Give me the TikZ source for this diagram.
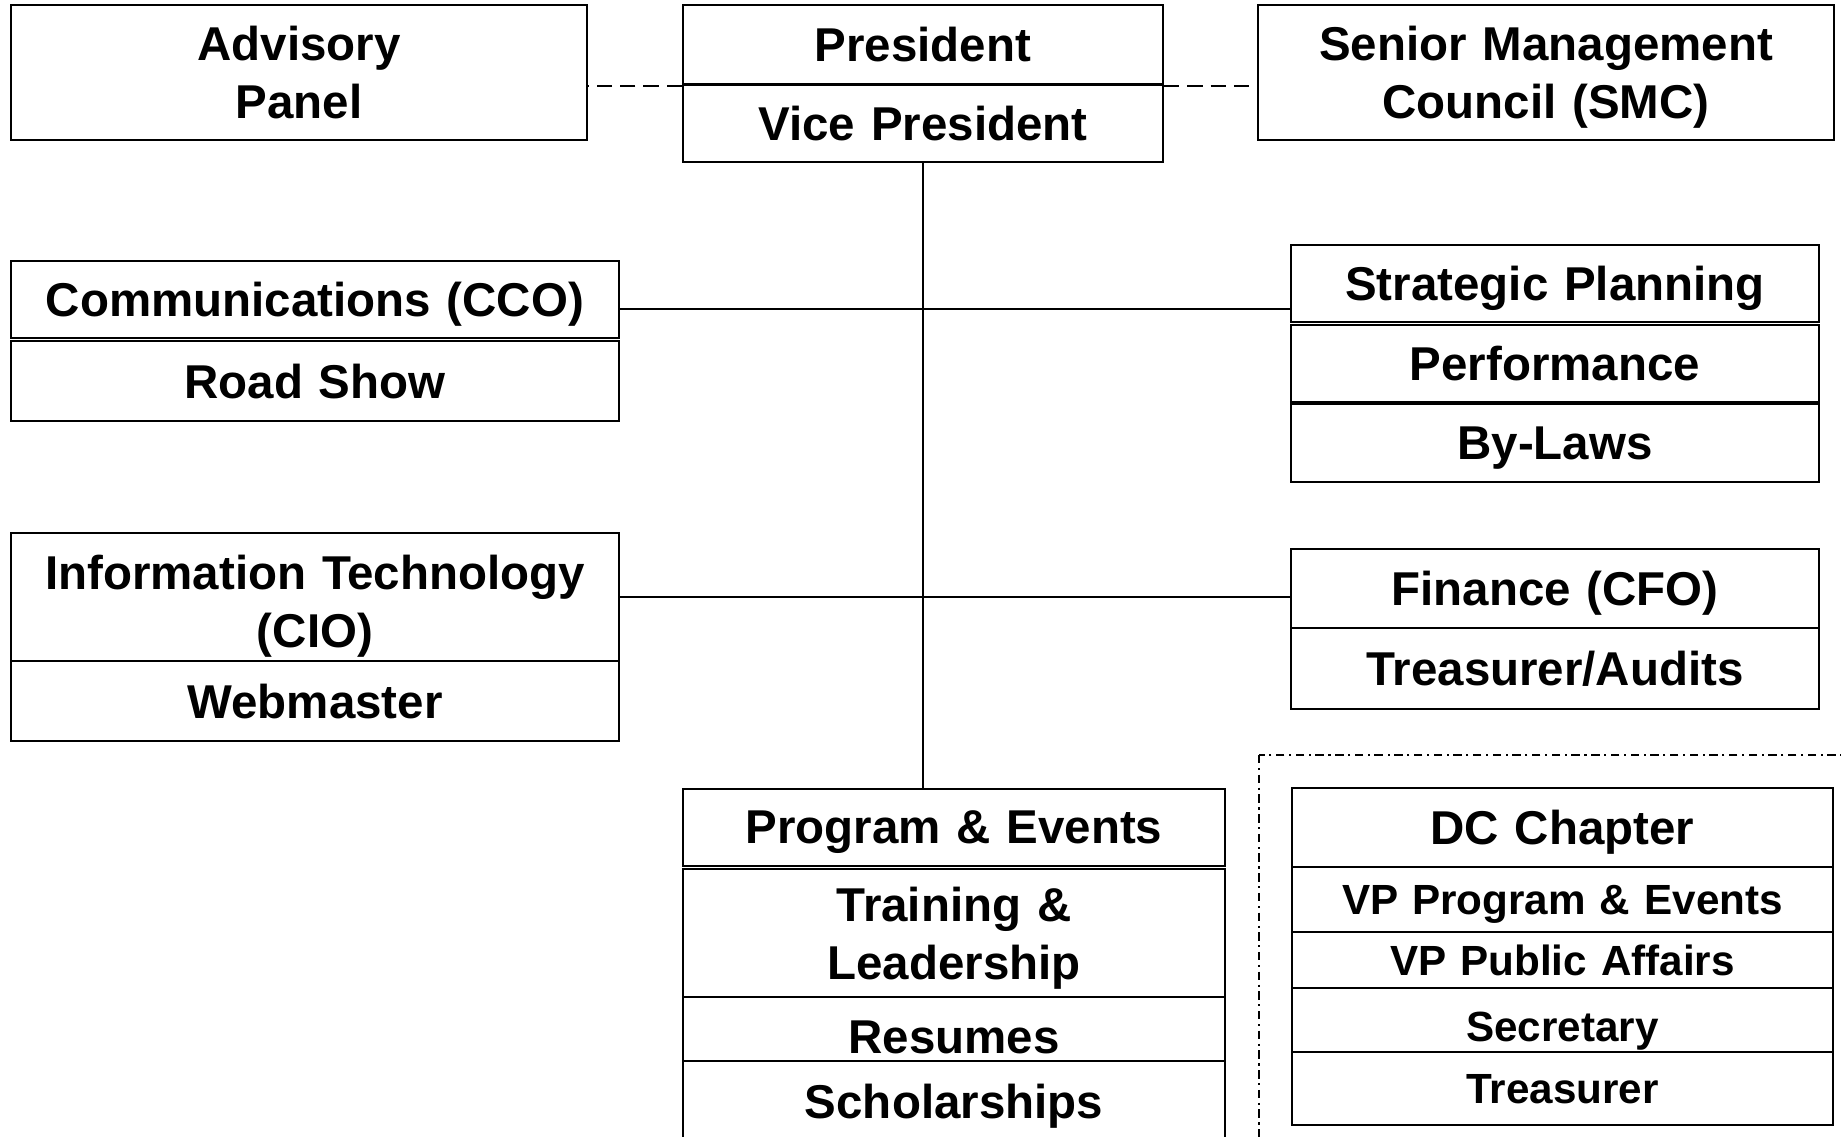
\documentclass[tikz,border=0pt]{standalone}
\usepackage{fontspec}
\setmainfont{Liberation Sans}
\usetikzlibrary{positioning}

\begin{document}
\begin{tikzpicture}[x=0.01cm, y=-0.01cm, every node/.style={draw, line width=0.6pt, inner sep=0pt, align=center, text depth=0pt, font=\bfseries\fontsize{13.5}{16.5}\selectfont}, twoline/.style={text depth=16.5pt}]
\useasboundingbox (0,0) rectangle (1841,1137);
% top row
\node[twoline, text width=5.76cm, minimum height=1.35cm] (Adv) at (299,72.5) {Advisory\\Panel};
\node[text width=4.80cm, minimum height=0.795cm] (Pres) at (923,44.75) {President};
\node[text width=4.80cm, minimum height=0.775cm] (VP) at (923,123.25) {Vice President};
\node[twoline, text width=5.76cm, minimum height=1.35cm] (SMC) at (1546,72.5) {Senior Management\\Council (SMC)};
% left column
\node[text width=6.08cm, minimum height=0.77cm] (CCO) at (315,299.5) {Communications (CCO)};
\node[text width=6.08cm, minimum height=0.80cm] (Road) at (315,381) {Road Show};
\node[twoline, text depth=13.8pt, text width=6.08cm, minimum height=1.28cm] (CIO) at (315,597) {Information Technology\\(CIO)};
\node[text width=6.08cm, minimum height=0.80cm] (Web) at (315,701) {Webmaster};
% right column
\node[text width=5.28cm, minimum height=0.77cm] (Strat) at (1555,283.5) {Strategic Planning};
\node[text width=5.28cm, minimum height=0.77cm] (Perf) at (1555,363.5) {Performance};
\node[text width=5.28cm, minimum height=0.78cm] (Laws) at (1555,443) {By-Laws};
\node[text width=5.28cm, minimum height=0.79cm] (CFO) at (1555,588.5) {Finance (CFO)};
\node[text width=5.28cm, minimum height=0.81cm] (Audit) at (1555,668.5) {Treasurer/Audits};
% bottom middle
\node[text width=5.42cm, minimum height=0.77cm] (Prog) at (954,827.5) {Program \& Events};
\node[twoline, text width=5.42cm, minimum height=1.28cm] (Train) at (954,933) {Training \&\\Leadership};
\node[text width=5.42cm, minimum height=0.64cm, text height=14pt] (Res) at (954,1029) {Resumes};
\node[text width=5.42cm, minimum height=0.80cm] (Schol) at (954,1101) {Scholarships};
% chapter
\draw[line width=0.5pt, dash pattern=on 2.4pt off 1.3pt on 0.6pt off 1.3pt] (1259,755) rectangle (1900,1200);
\node[text width=5.41cm, minimum height=0.79cm] (DC) at (1562.5,827.5) {DC Chapter};
\begin{scope}[every node/.append style={font=\bfseries\fontsize{12}{14}\selectfont}]
\node[text width=5.41cm, minimum height=0.65cm] (DCProg) at (1562.5,899.5) {VP Program \& Events};
\node[text width=5.41cm, minimum height=0.56cm] (DCPub) at (1562.5,960) {VP Public Affairs};
\node[text width=5.41cm, minimum height=0.64cm, text height=12pt] (DCSec) at (1562.5,1020) {Secretary};
\node[text width=5.41cm, minimum height=0.73cm] (DCTre) at (1562.5,1088.5) {Treasurer};
\end{scope}
% connectors
\coordinate (J1) at (923,309);
\draw[line width=0.6pt, dash pattern=on 4.3pt off 2.3pt] (Pres.south west) -- (Pres.south west -| Adv.east);
\draw[line width=0.6pt, dash pattern=on 4.3pt off 2.3pt] (Pres.south east) -- (Pres.south east -| SMC.west);
\draw[line width=0.6pt] (VP.south) -- (VP.south |- Prog.north);
\draw[line width=0.6pt] (CCO.east |- J1) -- (Strat.west |- J1);
\draw[line width=0.6pt] (CIO.east) -- (CIO.east -| CFO.west);
\end{tikzpicture}
\end{document}
